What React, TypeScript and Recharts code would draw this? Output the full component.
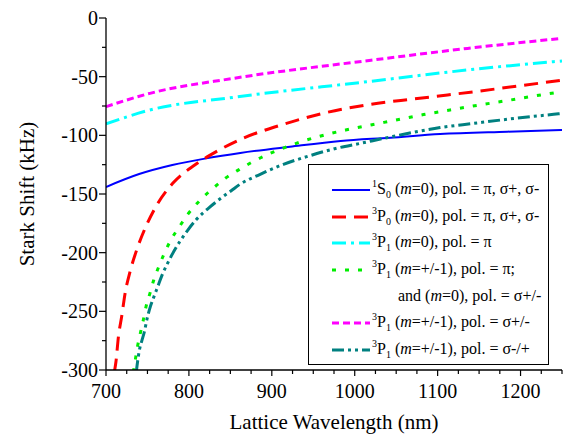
import React from 'react';
import { LineChart, Line, XAxis, YAxis, Legend, Label } from 'recharts';

// ---- data ----
const s0Wl = [700, 740, 780, 821, 862, 922, 983, 1043, 1103, 1184, 1250];
const s0Val = [-144, -133, -125.3, -119.6, -115, -109.7, -104.8, -102, -98.9, -96.9, -95.5];

const p0Wl = [710, 712, 715, 719, 723, 729, 737, 748, 760, 780.5, 807, 833, 862, 914, 962, 1015, 1071, 1112, 1250];
const p0Val = [-302, -293, -271.6, -254, -234.7, -216.2, -197.7, -177.9, -161, -140.9, -125.3, -113.9, -103.5, -90.6, -81.2, -74, -69, -65.6, -53];

const p1m0PiWl = [700, 753, 854, 1015, 1136, 1250];
const p1m0PiVal = [-90.3, -78.4, -67.6, -54.3, -44.3, -36.6];

const p1m1PiWl = [733, 735.4, 738, 741.4, 745, 748.3, 753, 757.6, 763.6, 770.4, 778, 788, 799, 813, 829, 844, 861, 877, 924, 956, 989, 1021, 1053, 1083, 1115, 1148, 1180, 1212, 1250];
const p1m1PiVal = [-302, -291, -280, -268.7, -257.4, -246, -234.7, -223.3, -212, -200.6, -189.5, -178.4, -167, -155.7, -145.2, -136.6, -129, -122.5, -108.2, -101.1, -95.5, -91, -86.5, -82.3, -78.4, -74.4, -70.8, -67, -62.8];

const p1SigSameWl = [700, 753, 854, 1015, 1136, 1250];
const p1SigSameVal = [-75.6, -64.2, -51.4, -36.4, -25.9, -17.3];

const p1SigOppWl = [736.5, 737.4, 740.3, 743.5, 746.3, 749.2, 753.5, 757.1, 762.4, 768.5, 773.3, 780.5, 789.4, 798.7, 808.7, 824.8, 836.9, 851, 862, 886, 914, 942, 974.5, 1007, 1039, 1071, 1103, 1144, 1184, 1240, 1250];
const p1SigOppVal = [-302, -296.6, -283, -274.4, -267.4, -257.4, -246, -238.9, -229, -217.6, -210.5, -200.6, -190.1, -180.7, -172, -161.4, -154.5, -147.2, -141.5, -133.2, -124.7, -118.2, -111.6, -106.8, -102, -97.4, -93.4, -89.8, -86.3, -82.1, -81.4];

const xTicks = [700, 725, 750, 775, 800, 825, 850, 875, 900, 925, 950, 975, 1000, 1025, 1050, 1075, 1100, 1125, 1150, 1175, 1200, 1225, 1250];
const xLabelTicks = [700, 800, 900, 1000, 1100, 1200];
const yTicks = [-300, -275, -250, -225, -200, -175, -150, -125, -100, -75, -50, -25, 0];
const yLabelTicks = [-300, -250, -200, -150, -100, -50, 0];

const toPoints = (xs: number[], ys: number[]) => xs.map((x, i) => ({ x, y: ys[i] }));

const FONT = 'Liberation Serif, DejaVu Serif, Times New Roman, serif';

const Sub = ({ children }: { children: React.ReactNode }) => (
  <span style={{ fontSize: 10, verticalAlign: -4, lineHeight: 0 }}>{children}</span>
);
const Sup = ({ children }: { children: React.ReactNode }) => (
  <span style={{ fontSize: 10, verticalAlign: 7, lineHeight: 0 }}>{children}</span>
);
const I = ({ children }: { children: React.ReactNode }) => <i>{children}</i>;

const series = [
  {
    key: 's0', data: toPoints(s0Wl, s0Val), color: '#0000ff', dash: undefined as string | undefined, width: 2,
    label: [<span key="a"><Sup>1</Sup>S<Sub>0</Sub> (<I>m</I>=0), pol. = π, σ+, σ-</span>],
  },
  {
    key: 'p0', data: toPoints(p0Wl, p0Val), color: '#ff0000', dash: '14 8', width: 3,
    label: [<span key="a"><Sup>3</Sup>P<Sub>0</Sub> (<I>m</I>=0), pol. = π, σ+, σ-</span>],
  },
  {
    key: 'p1m0', data: toPoints(p1m0PiWl, p1m0PiVal), color: '#00ffff', dash: '14 5 3 5', width: 3,
    label: [<span key="a"><Sup>3</Sup>P<Sub>1</Sub> (<I>m</I>=0), pol. = π</span>],
  },
  {
    key: 'p1m1pi', data: toPoints(p1m1PiWl, p1m1PiVal), color: '#00ee00', dash: '4 9', width: 3,
    label: [
      <span key="a"><Sup>3</Sup>P<Sub>1</Sub> (<I>m</I>=+/-1), pol. = π;</span>,
      <span key="b">and (<I>m</I>=0), pol. = σ+/-</span>,
    ],
  },
  {
    key: 'p1same', data: toPoints(p1SigSameWl, p1SigSameVal), color: '#ff00ff', dash: '7 4', width: 3,
    label: [<span key="a"><Sup>3</Sup>P<Sub>1</Sub> (<I>m</I>=+/-1), pol. = σ+/-</span>],
  },
  {
    key: 'p1opp', data: toPoints(p1SigOppWl, p1SigOppVal), color: '#008080', dash: '12 4 3 4 3 4', width: 3,
    label: [<span key="a"><Sup>3</Sup>P<Sub>1</Sub> (<I>m</I>=+/-1), pol. = σ-/+</span>],
  },
];

const XTick = (props: any) => {
  const { x, y, payload } = props;
  const major = xLabelTicks.includes(payload.value);
  return (
    <g>
      <line x1={x} x2={x} y1={y} y2={y + (major ? 6 : 4)} stroke="#000" strokeWidth={1.2} />
      {major && (
        <text x={x} y={y + 28} textAnchor="middle" fontSize={20} fontFamily={FONT} fill="#000">
          {payload.value}
        </text>
      )}
    </g>
  );
};

const YTick = (props: any) => {
  const { x, y, payload } = props;
  const major = yLabelTicks.includes(payload.value);
  return (
    <g>
      <line x1={x - (major ? 7 : 4)} x2={x} y1={y} y2={y} stroke="#000" strokeWidth={1.2} />
      {major && (
        <text x={x - 8} y={y + 7} textAnchor="end" fontSize={20} fontFamily={FONT} fill="#000">
          {payload.value}
        </text>
      )}
    </g>
  );
};

const renderLegend = (props: any) => {
  const payload = props.payload || [];
  const shown = series.filter((s) => payload.some((p: any) => p.value === s.key));
  return (
    <div
      style={{
        width: 241, height: 201, boxSizing: 'border-box', border: '1.3px solid #000', background: '#fff',
        paddingTop: 11, fontFamily: FONT, fontSize: 16, color: '#000',
      }}
    >
      {shown.map((s) =>
        s.label.map((lab, li) => (
          <div key={s.key + li} style={{ height: 26.7, lineHeight: '26.7px', position: 'relative', whiteSpace: 'nowrap' }}>
            {li === 0 && (
              <svg width={40} height={10} style={{ position: 'absolute', left: 22, top: 9 }}>
                <line x1={1} x2={39} y1={5} y2={5} stroke={s.color} strokeWidth={s.width} strokeDasharray={s.dash} />
              </svg>
            )}
            <span style={{ position: 'absolute', left: li === 0 ? 63 : 89, top: 0 }}>{lab}</span>
          </div>
        ))
      )}
    </div>
  );
};

export default function App() {
  return (
    <div style={{ position: 'absolute', left: 0, top: 0 }}>
      <LineChart width={567} height={435} margin={{ top: 18, right: 5, bottom: 0, left: 0 }}>
        <XAxis
          dataKey="x" type="number" domain={[700, 1250]} ticks={xTicks} interval={0} allowDataOverflow
          height={65} tickSize={0} tickMargin={0} tickLine={false} tick={<XTick />}
          axisLine={{ stroke: '#000', strokeWidth: 1.3 }}
        >
          <Label value="Lattice Wavelength (nm)" position="insideBottom" offset={6}
            style={{ fontSize: 21, fontFamily: FONT, fill: '#000' }} />
        </XAxis>
        <XAxis
          xAxisId="top" orientation="top" type="number" domain={[700, 1250]} ticks={xTicks} interval={0}
          height={0} mirror tick={false} tickSize={2} tickLine={{ stroke: '#000' }}
          axisLine={{ stroke: '#000', strokeWidth: 1.3 }}
        />
        <YAxis
          type="number" domain={[-300, 0]} ticks={yTicks} interval={0} allowDataOverflow
          width={106} tickSize={0} tickMargin={0} tickLine={false} tick={<YTick />}
          axisLine={{ stroke: '#000', strokeWidth: 1.3 }}
        >
          <Label value="Stark Shift (kHz)" angle={-90} position="insideLeft" offset={27}
            style={{ fontSize: 21, fontFamily: FONT, fill: '#000', textAnchor: 'middle' }} />
        </YAxis>
        <YAxis
          yAxisId="right" orientation="right" type="number" domain={[-300, 0]} ticks={yTicks} interval={0}
          width={0} mirror tick={false} tickSize={2} tickLine={{ stroke: '#000' }}
          axisLine={{ stroke: '#000', strokeWidth: 1.3 }}
        />
        {series.map((s) => (
          <Line
            key={s.key} name={s.key} data={s.data} dataKey="y" type="monotone" stroke={s.color}
            strokeWidth={s.width} strokeDasharray={s.dash} dot={false} activeDot={false}
            isAnimationActive={false} legendType="line"
          />
        ))}
        <Legend
          layout="vertical" align="center" verticalAlign="middle" content={renderLegend}
          wrapperStyle={{ position: 'absolute', left: 308, top: 164, width: 241, height: 201 }}
        />
      </LineChart>
    </div>
  );
}
